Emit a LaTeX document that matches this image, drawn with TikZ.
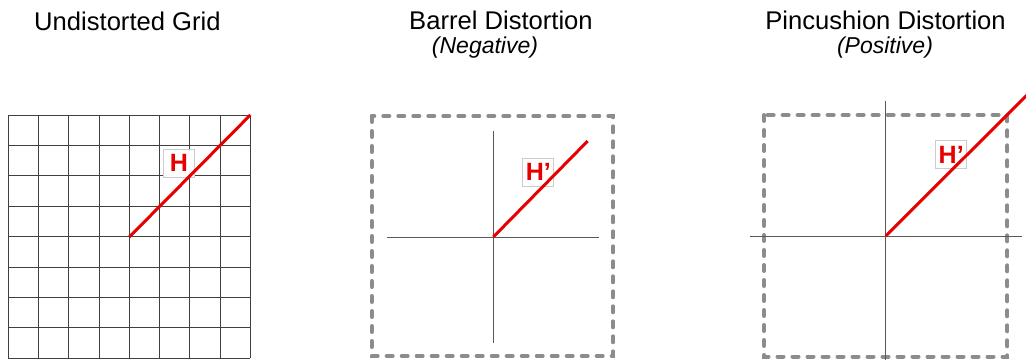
\documentclass[tikz,border=0pt]{standalone}
\usepackage{fontspec}
\setmainfont{Liberation Sans}
\definecolor{hred}{RGB}{230,0,0}
\begin{document}
\begin{tikzpicture}[x=1pt,y=-1pt,
  title/.style={anchor=base,inner sep=0pt,font=\fontsize{25.6}{28}\selectfont},
  subtitle/.style={anchor=base,inner sep=0pt,font=\fontsize{23}{26}\selectfont\itshape},
  gridline/.style={draw=black!75,line width=1pt},
  axis/.style={draw=black!65,line width=1pt},
  frame/.style={draw=black!45,line width=4pt,dash pattern=on 6pt off 9pt,line cap=round},
  hline/.style={draw=hred,line width=3pt},
  hlabel/.style={draw=black!20,fill=white,line width=0.8pt,text=hred,
    font=\fontsize{25}{27}\selectfont\bfseries,inner sep=0pt,minimum width=31pt,minimum height=28pt}
]
\useasboundingbox (0,0) rectangle (1026,359);
\clip (0,0) rectangle (1026,359);

% titles
\node[title] (t1) at (127.4,30) {Undistorted Grid};
\node[title] (t2) at (501,29) {Barrel Distortion};
\node[subtitle] (s2) at (485,53) {(Negative)};
\node[title] (t3) at (885.5,29) {Pincushion Distortion};
\node[subtitle] (s3) at (885,53) {(Positive)};

% panel 1 grid
\foreach \i in {0,...,8} {
  \draw[gridline] ({8.3+\i*30.25},115) -- ({8.3+\i*30.25},358.3);
  \draw[gridline] (8.3,{115+\i*30.4}) -- (250.3,{115+\i*30.4});
}
\node[hlabel] (h1) at (178.8,163) {H};
\coordinate (o1) at (129.3,237);
\coordinate (e1) at (250.3,115);
\draw[hline] (o1) -- (e1);

% panel 2
\draw[frame] (371.7,116) rectangle (613,356);
\coordinate (o2) at (493.3,237);
\coordinate (a2l) at (387.3,237);
\coordinate (a2r) at (598.7,237);
\coordinate (a2t) at (493.3,131);
\coordinate (a2b) at (493.3,343);
\draw[axis] (a2l) -- (a2r);
\draw[axis] (a2t) -- (a2b);
\node[hlabel] (h2) at (538.3,172.3) {H’};
\coordinate (e2) at (587.7,141);
\draw[hline] (o2) -- (e2);

% panel 3
\draw[frame] (764,115) rectangle (1007.3,356.5);
\coordinate (o3) at (885.7,236);
\coordinate (a3l) at (750,236);
\coordinate (a3r) at (1021.7,236);
\coordinate (a3t) at (885.7,100.7);
\coordinate (a3b) at (885.7,362);
\draw[axis] (a3l) -- (a3r);
\draw[axis] (a3t) -- (a3b);
\node[hlabel] (h3) at (951.2,154.7) {H’};
\coordinate (e3) at (1032,90);
\draw[hline] (o3) -- (e3);
\end{tikzpicture}
\end{document}
